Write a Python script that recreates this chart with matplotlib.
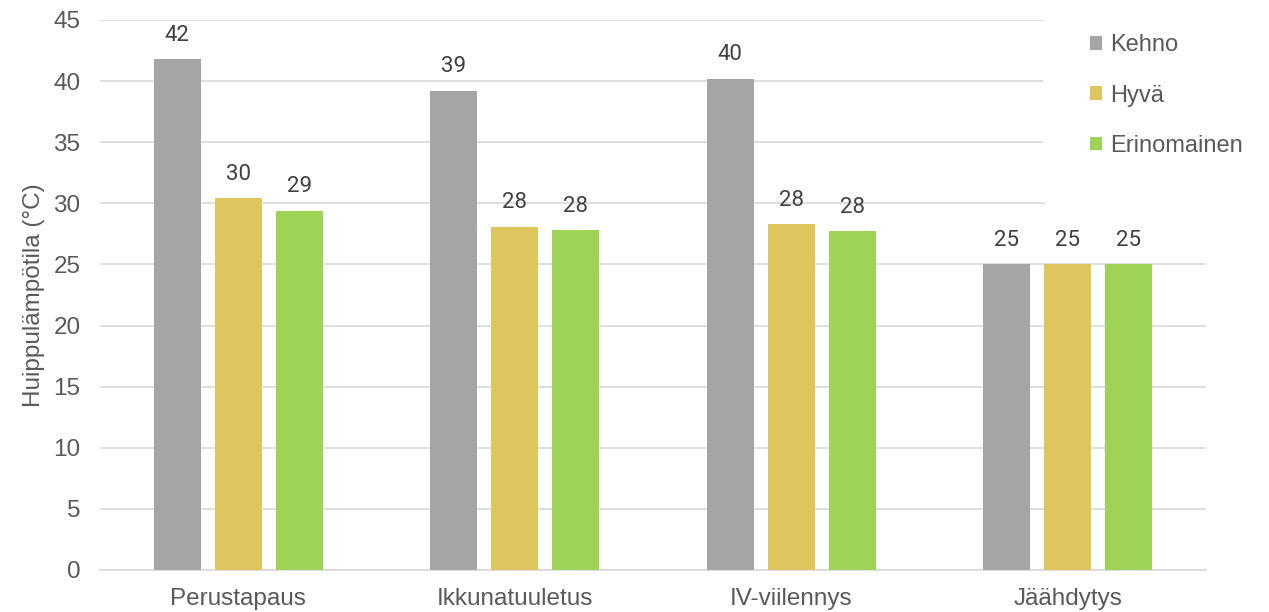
import numpy as np
import matplotlib.pyplot as plt

categories = ['Perustapaus', 'Ikkunatuuletus', 'IV-viilennys', 'Jäähdytys']
series = ['Kehno', 'Hyvä', 'Erinomainen']
kehno = [41.8, 39.2, 40.2, 25.0]
hyva = [30.4, 28.1, 28.3, 25.0]
erinomainen = [29.4, 27.8, 27.7, 25.0]
colors = ['#a5a5a6', '#dec55e', '#9fd356']

plt.rcParams['font.family'] = ['Liberation Sans', 'DejaVu Sans']
text_color = '#595959'

fig = plt.figure(figsize=(12.69, 6.12), dpi=100)
ax = fig.add_axes([100 / 1269, 1 - 570 / 612, 1106 / 1269, 550 / 612])

x = np.arange(len(categories))
width = 0.17
offsets = [-0.221, 0, 0.221]
for vals, name, col, off in zip([kehno, hyva, erinomainen], series, colors, offsets):
    bars = ax.bar(x + off, vals, width, color=col, label=name, zorder=3)
    for b, v in zip(bars, vals):
        ax.text(b.get_x() + b.get_width() / 2, v + 1.1, f'{v:.0f}',
                ha='center', va='bottom', fontsize=16, color='#404040',
                family=['Roboto', 'DejaVu Sans'])

ax.set_xlim(-0.5, 3.5)
ax.set_ylim(0, 45)
ax.set_yticks(range(0, 46, 5))
ax.set_xticks(x)
ax.set_xticklabels(categories)
ax.yaxis.grid(True, color='#d9d9d9', linewidth=1.2, zorder=0)
ax.tick_params(axis='both', length=0, labelsize=17.5, labelcolor=text_color)
ax.tick_params(axis='y', pad=14)
ax.tick_params(axis='x', pad=13)
for s in ['top', 'right', 'left']:
    ax.spines[s].set_visible(False)
ax.spines['bottom'].set_color('#d9d9d9')
ax.spines['bottom'].set_linewidth(1.2)
ax.set_ylabel('Huippulämpötila (°C)', fontsize=17.5, color=text_color, labelpad=6)

# legend box is opaque so it hides the grid lines on the right
leg = ax.legend(loc='upper left', bbox_to_anchor=(1043 / 1269, 1 + 13 / 612),
                bbox_transform=fig.transFigure, frameon=True, fontsize=17,
                handlelength=0.5, handleheight=0.5, handletextpad=0.35,
                labelspacing=1.2, borderaxespad=0, borderpad=2.0)
leg.get_frame().set_facecolor('white')
leg.get_frame().set_edgecolor('none')
leg.get_frame().set_alpha(1)
leg.set_zorder(5)
for t in leg.get_texts():
    t.set_color(text_color)

fig.savefig('out.png', dpi=100)
